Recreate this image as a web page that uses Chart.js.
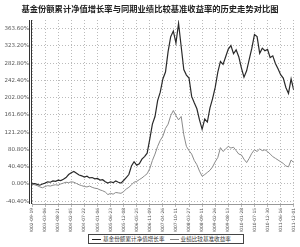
<!DOCTYPE html>
<html>
<head>
<meta charset="utf-8">
<script src="https://cdn.jsdelivr.net/npm/chart.js@4"></script>
<style>
  body { margin: 0; background: #fff; }
  .wrap { position: relative; width: 300px; height: 247px; overflow: hidden; }
  .title { position: absolute; left: 0; top: 2px; width: 300px; text-align: center;
    font: bold 8.3px "Noto Sans CJK SC", sans-serif; color: #222; white-space: nowrap; }
  .legend { position: absolute; left: 88px; top: 234px; width: 156px; height: 10px;
    border: 1px solid #444; box-sizing: border-box; font: 5.6px "Noto Sans CJK SC", sans-serif;
    color: #333; display: flex; align-items: center; white-space: nowrap; background: #fff; }
  .legend .ln { display: inline-block; width: 9px; height: 1px; margin: 0 2px 0 3px; }
  canvas { position: absolute; left: 0; top: 0; }
</style>
</head>
<body>
<div class="wrap">
  <canvas id="c" width="300" height="247"></canvas>
  <div class="title">基金份额累计净值增长率与同期业绩比较基准收益率的历史走势对比图</div>
  <div class="legend">
    <span class="ln" style="background:#222"></span>基金份额累计净值增长率
    <span class="ln" style="background:#888;margin-left:5px"></span>业绩比较基准收益率
  </div>
</div>
<script>
// tick labels along the time axis (one every half year)
const dateLabels = [
  "2002-09-19", "2003-03-06", "2003-08-21", "2004-02-05", "2004-07-22",
  "2005-01-06", "2005-06-23", "2005-12-08", "2006-05-25", "2006-11-09",
  "2007-04-26", "2007-10-11", "2008-03-27", "2008-09-11", "2009-02-26",
  "2009-08-13", "2010-01-28", "2010-07-15", "2010-12-30", "2011-06-16",
  "2011-12-01"
]
const yTicks = [-40.4, 0, 40.4, 80.8, 121.2, 161.6, 202.0, 242.4, 282.8, 323.2, 363.6]

// sample positions, in units of the tick interval above
const samplePos = Array.from({ length: 101 }, (_, i) => i * 0.2)

// 基金份额累计净值增长率 (%)
const fundGrowth = [
  0, 1, -1, -3, 0, 2, 5, 4, 7, 6,
  9, 8, 11, 15, 22, 26, 29, 25, 21, 19,
  16, 18, 14, 15, 12, 13, 9, 10, 5, 2,
  5, 3, 7, 4, 2, 8, 15, 22, 42, 52,
  44, 47, 58, 64, 72, 105, 140, 158, 195, 215,
  246, 262, 310, 345, 358, 330, 376, 322, 268, 255,
  248, 205, 190, 176, 150, 128, 152, 145, 178, 200,
  226, 262, 287, 280, 298, 316, 324, 305, 314, 298,
  272, 250, 265, 292, 318, 350, 345, 306, 318, 312,
  315, 296, 300, 282, 270, 256, 248, 226, 212, 246,
  220
]
// 业绩比较基准收益率 (%)
const benchmark = [
  0, -2, -4, -7, -9, -6, -4, -5, -3, -2,
  -3, 0, 2, 4, 3, 5, 4, 1, -2, -4,
  -6, -7, -5, -8, -10, -11, -14, -16, -19, -25,
  -22, -24, -20, -21, -22, -18, -12, -8, -2, 4,
  6, 10, 14, 19, 24, 36, 55, 70, 88, 102,
  112, 130, 140, 160, 172, 160, 150, 158, 115, 88,
  78, 70, 55, 45, 30, 18, 22, 27, 32, 40,
  52, 62, 85, 76, 82, 88, 84, 86, 78, 70,
  68, 58, 50, 60, 72, 80, 76, 82, 78, 80,
  76, 70, 64, 60, 56, 52, 48, 42, 40, 56,
  50
]

const toPoints = (vals) => vals.map((v, i) => ({ x: samplePos[i], y: v }))

// double vertical axis line on the left, plain line at the bottom
const axisLines = {
  id: "axisLines",
  afterDraw: (chart) => {
    const { ctx, chartArea } = chart
    ctx.save()
    ctx.strokeStyle = "#333"
    ctx.lineWidth = 1
    ;[chartArea.left - 2.5, chartArea.left - 0.5].forEach((x) => {
      ctx.beginPath()
      ctx.moveTo(x, chartArea.top)
      ctx.lineTo(x, chartArea.bottom)
      ctx.stroke()
    })
    ctx.strokeStyle = "#999"
    ctx.beginPath()
    ctx.moveTo(chartArea.left, chartArea.bottom + 0.5)
    ctx.lineTo(chartArea.right, chartArea.bottom + 0.5)
    ctx.stroke()
    ctx.restore()
  },
}

new Chart(document.getElementById("c"), {
  type: "line",
  data: {
    datasets: [
      {
        label: "基金份额累计净值增长率",
        data: toPoints(fundGrowth),
        borderColor: "#2a2a2a",
        borderWidth: 1.2,
        pointRadius: 0,
        tension: 0,
      },
      {
        label: "业绩比较基准收益率",
        data: toPoints(benchmark),
        borderColor: "#8a8a8a",
        borderWidth: 1,
        pointRadius: 0,
        tension: 0,
      },
    ],
  },
  options: {
    responsive: false,
    animation: false,
    layout: { padding: { top: 20, right: 3, bottom: 15, left: 0 } },
    plugins: { legend: { display: false }, tooltip: { enabled: false } },
    scales: {
      x: {
        type: "linear",
        min: 0,
        max: 20,
        afterBuildTicks: (scale) => {
          scale.ticks = dateLabels.map((_, i) => ({ value: i }))
        },
        afterFit: (scale) => { scale.height = 28 },
        ticks: {
          callback: (v) => dateLabels[v] || "",
          minRotation: 90,
          maxRotation: 90,
          autoSkip: false,
          font: { size: 4.4, family: "DejaVu Sans" },
          color: "#555",
          padding: 1,
        },
        grid: { color: "#aaa", lineWidth: 0.8, tickLength: 3, drawTicks: true },
        border: { display: false, dash: [1, 2] },
      },
      y: {
        min: -47,
        max: 384,
        afterBuildTicks: (scale) => {
          scale.ticks = yTicks.map((v) => ({ value: v }))
        },
        afterFit: (scale) => { scale.width = 32 },
        ticks: {
          callback: (v) => v.toFixed(2) + "%",
          font: { size: 5.5, family: "DejaVu Sans" },
          color: "#555",
          padding: 3,
        },
        grid: { color: "#aaa", lineWidth: 0.8, drawTicks: false },
        border: { display: false, dash: [1, 2] },
      },
    },
  },
  plugins: [axisLines],
})
</script>
</body>
</html>
